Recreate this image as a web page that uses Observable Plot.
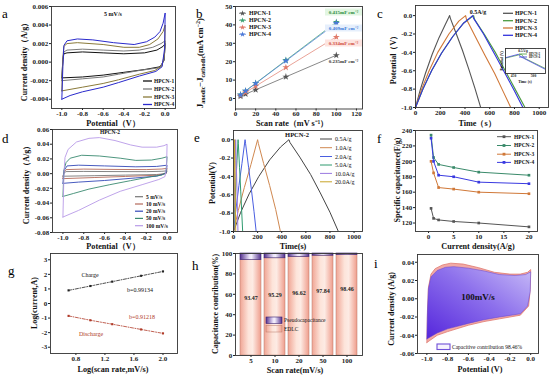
<!DOCTYPE html>
<html><head><meta charset="utf-8">
<script src="https://cdn.jsdelivr.net/npm/d3@7"></script>
<script src="https://cdn.jsdelivr.net/npm/@observablehq/plot@0.6"></script>
<style>
body{margin:0;background:#fff;}
#fig{position:relative;width:550px;height:377px;overflow:hidden;background:#fff;}
#fig svg{position:absolute;left:0;top:0;}
</style></head><body><div id="fig"></div>
<script>
// ---------------- DATA ----------------
// (a) CV at 5 mV/s  [potential V, current A/g]
const aNames = ["HPCN-1","HPCN-2","HPCN-3","HPCN-4"];
const aColors = ["#111111","#7a7a7a","#8a7a3a","#2a2acc"];
const a1 = [[-1.0,-0.0017],[-0.99,0.0003],[-0.98,0.0009],[-0.95,0.0010],[-0.8,0.0011],[-0.6,0.0010],[-0.4,0.0009],[-0.2,0.0010],[-0.08,0.0013],[-0.02,0.0017],[0.0,0.0020],[-0.01,0.0002],[-0.05,-0.0005],[-0.2,-0.0008],[-0.4,-0.0011],[-0.6,-0.0014],[-0.8,-0.0016],[-1.0,-0.0017]];
const a2 = [[-1.0,-0.0020],[-0.99,0.0004],[-0.98,0.0011],[-0.95,0.0013],[-0.8,0.0014],[-0.6,0.0013],[-0.4,0.0012],[-0.25,0.0013],[-0.12,0.0016],[-0.04,0.0020],[0.0,0.0023],[-0.01,0.0003],[-0.05,-0.0006],[-0.25,-0.0009],[-0.45,-0.0013],[-0.6,-0.0016],[-0.8,-0.0018],[-1.0,-0.0020]];
const a3 = [[-1.0,-0.0031],[-0.99,0.0005],[-0.98,0.0017],[-0.95,0.0020],[-0.85,0.0021],[-0.6,0.0019],[-0.4,0.0016],[-0.25,0.0016],[-0.15,0.0019],[-0.07,0.0025],[-0.02,0.0033],[0.0,0.0040],[-0.005,0.0010],[-0.03,-0.0004],[-0.1,-0.0009],[-0.25,-0.0013],[-0.45,-0.0019],[-0.6,-0.0023],[-0.8,-0.0027],[-1.0,-0.0031]];
const a4 = [[-1.0,-0.0040],[-0.99,-0.0005],[-0.98,0.0018],[-0.95,0.0023],[-0.85,0.0025],[-0.7,0.0024],[-0.5,0.0021],[-0.3,0.0019],[-0.18,0.0022],[-0.1,0.0027],[-0.05,0.0033],[-0.02,0.0042],[0.0,0.0053],[-0.005,0.0015],[-0.03,-0.0005],[-0.09,-0.0010],[-0.25,-0.0015],[-0.45,-0.0022],[-0.6,-0.0027],[-0.8,-0.0032],[-0.92,-0.0036],[-1.0,-0.0040]];

// (b) current density difference vs scan rate
const bRate = [5,10,20,50,100];
const bJ1 = [1.2,2.4,4.7,11.8,23.5];
const bJ2 = [2.1,4.1,8.3,20.8,41.5];
const bJ3 = [1.7,3.3,6.7,16.9,33.4];
const bJ4 = [2.0,4.1,8.2,20.5,40.9];
const bColors = ["#555555","#3aa070","#e07a6a","#4a78d8"];
const bSlopes = ["0.415mF cm⁻²","0.409mF cm⁻²","0.334mF cm⁻²","0.235mF cm⁻²"];

// (c) GCD at 0.5 A/g [time s, potential V]
const cColors = ["#555555","#4a9a40","#d07838","#3333dd"];
const c1 = [[0,-1],[40,-0.8],[80,-0.63],[135,-0.42],[190,-0.24],[240,-0.1],[276,0],[282,-0.03],[330,-0.2],[380,-0.38],[430,-0.58],[480,-0.79],[527,-1]];
const c2 = [[0,-1],[60,-0.8],[130,-0.6],[210,-0.41],[300,-0.23],[390,-0.08],[470,0],[477,-0.04],[555,-0.2],[645,-0.4],[725,-0.6],[805,-0.8],[885,-1]];
const c3 = [[0,-1],[50,-0.8],[110,-0.6],[180,-0.4],[270,-0.2],[350,-0.06],[405,0],[412,-0.04],[480,-0.22],[560,-0.43],[640,-0.63],[710,-0.83],[770,-1]];
const c4 = [[0,-1],[60,-0.8],[130,-0.6],[210,-0.41],[300,-0.23],[390,-0.08],[462,0],[470,-0.03],[550,-0.2],[640,-0.42],[720,-0.62],[800,-0.82],[868,-1]];

// (d) CV of HPCN-2 at several scan rates
const dNames = ["5 mV/s","10 mV/s","20 mV/s","50 mV/s","100 mV/s"];
const dColors = ["#777777","#b46a5a","#3348b8","#3a8a70","#b89ae8"];
const d5 = [[-1.0,-0.0035],[-0.99,0.001],[-0.97,0.0028],[-0.8,0.003],[-0.5,0.0028],[-0.2,0.0027],[-0.05,0.0032],[0,0.0038],[-0.01,0.0],[-0.1,-0.0012],[-0.4,-0.002],[-0.7,-0.0028],[-1.0,-0.0035]];
const d10 = [[-1.0,-0.0068],[-0.99,0.002],[-0.97,0.0055],[-0.8,0.0062],[-0.5,0.0057],[-0.2,0.0055],[-0.05,0.0063],[0,0.0072],[-0.01,0.0003],[-0.1,-0.0022],[-0.4,-0.0038],[-0.7,-0.0053],[-1.0,-0.0068]];
const d20 = [[-1.0,-0.0132],[-0.99,0.004],[-0.96,0.0105],[-0.85,0.0115],[-0.6,0.0105],[-0.3,0.0093],[-0.1,0.0098],[0,0.0115],[-0.01,0.0005],[-0.1,-0.0035],[-0.3,-0.0058],[-0.6,-0.0093],[-0.85,-0.0115],[-1.0,-0.0132]];
const d50 = [[-1.0,-0.031],[-0.99,0.005],[-0.97,0.015],[-0.93,0.021],[-0.82,0.025],[-0.65,0.024],[-0.45,0.021],[-0.3,0.018],[-0.15,0.0185],[-0.05,0.021],[0,0.023],[-0.01,0.002],[-0.05,-0.002],[-0.15,-0.004],[-0.35,-0.0095],[-0.55,-0.015],[-0.75,-0.021],[-0.9,-0.027],[-1.0,-0.031]];
const d100 = [[-1.0,-0.059],[-0.99,0.0],[-0.98,0.022],[-0.95,0.033],[-0.87,0.043],[-0.75,0.048],[-0.65,0.049],[-0.5,0.045],[-0.35,0.039],[-0.24,0.036],[-0.1,0.036],[-0.03,0.038],[0,0.040],[-0.005,0.01],[-0.02,-0.004],[-0.08,-0.008],[-0.24,-0.015],[-0.45,-0.024],[-0.65,-0.036],[-0.85,-0.05],[-1.0,-0.059]];

// (e) GCD of HPCN-2 at several current densities
const eNames = ["0.5A/g","1.0A/g","2.0A/g","5.0A/g","10.0A/g","20.0A/g"];
const eColors = ["#444444","#d08850","#4a5ee0","#2e9a6e","#9a78e0","#c8a428"];
const e05 = [[0,-1],[60,-0.79],[130,-0.59],[210,-0.4],[300,-0.22],[390,-0.08],[460,0],[468,-0.03],[550,-0.19],[640,-0.38],[720,-0.58],[800,-0.79],[870,-1]];
const e1 = [[0,-1],[40,-0.77],[90,-0.52],[145,-0.27],[200,0],[206,-0.04],[250,-0.26],[300,-0.5],[350,-0.76],[389,-1]];
const e2 = [[0,-1],[20,-0.76],[45,-0.5],[70,-0.26],[96,0],[100,-0.04],[125,-0.3],[150,-0.56],[170,-0.78],[188,-1]];
const e5 = [[0,-1],[10,-0.72],[20,-0.46],[29,-0.23],[38,0],[40,-0.04],[50,-0.3],[60,-0.56],[68,-0.78],[76,-1]];
const e10 = [[0,-1],[5,-0.72],[10,-0.45],[14,-0.23],[18,0],[19,-0.04],[24,-0.3],[29,-0.56],[33,-0.78],[37,-1]];
const e20 = [[0,-1],[2.5,-0.72],[5,-0.46],[7,-0.23],[9,0],[9.5,-0.04],[12,-0.3],[14.5,-0.56],[16.5,-0.78],[18.5,-1]];

// (f) specific capacitance vs current density
const fCurrent = [0.5,1,2,5,10,20];
const fC1 = [139,126,124,122,120,115];
const fC2 = [234,205,196,192,186,182];
const fC3 = [200,185,166,164,160,158];
const fC4 = [230,200,182,180,173,171];
const fColors = ["#555555","#3a8a6a","#d07838","#3a3ae0"];

// (g) log(current) vs log(scan rate)
const gLogRate = [0.699,1.0,1.301,1.699,2.0];
const gCharge = [0.9,1.2,1.5,1.9,2.2];
const gDischarge = [-0.85,-1.15,-1.42,-1.78,-2.05];

// (h) capacitance contribution
const hRates = ["5","10","20","50","100"];
const hEDLC = [93.47,95.29,96.62,97.84,98.46];
const hPseudo = [6.53,4.71,3.38,2.16,1.54];

// (i) capacitive contribution at 100 mV/s
const iTotal = [[-1.0,-0.048],[-0.995,-0.02],[-0.985,0.012],[-0.96,0.027],[-0.92,0.033],[-0.85,0.037],[-0.77,0.039],[-0.65,0.038],[-0.5,0.034],[-0.35,0.029],[-0.2,0.027],[-0.1,0.027],[-0.03,0.029],[0.0,0.032],[-0.005,0.01],[-0.02,-0.008],[-0.1,-0.018],[-0.3,-0.022],[-0.45,-0.025],[-0.6,-0.029],[-0.8,-0.036],[-0.9,-0.040],[-1.0,-0.048]];
const iCap = [[-1.0,-0.044],[-0.995,-0.015],[-0.985,0.011],[-0.96,0.024],[-0.9,0.031],[-0.82,0.0345],[-0.74,0.0352],[-0.6,0.0335],[-0.45,0.0305],[-0.3,0.0265],[-0.15,0.0255],[-0.05,0.0265],[0.0,0.0295],[-0.005,0.008],[-0.03,-0.008],[-0.1,-0.0165],[-0.3,-0.020],[-0.45,-0.023],[-0.6,-0.027],[-0.8,-0.033],[-0.9,-0.0375],[-1.0,-0.044]];

// ---------------- RENDER ----------------
const W = 550, H = 377;
const FONT = '"Liberation Serif","Times New Roman",Times,serif';
const fig = document.getElementById("fig");
const pts = arr => arr.map(([x, y]) => ({x, y}));
const loc = d3.formatLocale({decimal: ".", thousands: ",", grouping: [3], currency: ["", ""], minus: "-"});
const fmt = s => loc.format(s);

const defs = d3.select(fig).append("svg").attr("width", 1).attr("height", 1).append("defs");
function grad(id, stops, x1 = 0, y1 = 0, x2 = 1, y2 = 0) {
  const g = defs.append("linearGradient").attr("id", id)
    .attr("x1", x1).attr("y1", y1).attr("x2", x2).attr("y2", y2);
  stops.forEach(([o, c]) => g.append("stop").attr("offset", o).attr("stop-color", c));
}
grad("edlcGrad", [[0, "#f0a594"], [0.4, "#fde4da"], [0.6, "#fdebe4"], [1, "#ef9d8c"]]);
grad("pseudoGrad", [[0, "#54308e"], [0.45, "#ece4fa"], [0.55, "#f2eefc"], [1, "#54308e"]]);
grad("capGrad", [[0, "#5526dc"], [0.55, "#8d70ec"], [1, "#c8bcf7"]], 0, 1, 1, 0);

function mk(fr, xs, ys, marks, fs = 7) {
  const [x0, x1, y0, y1] = fr;
  const p = Plot.plot({
    width: W, height: H,
    marginLeft: x0, marginRight: W - x1, marginTop: y0, marginBottom: H - y1,
    style: {fontFamily: FONT, fontSize: fs + "px", fontWeight: "bold", color: "#222", background: "none", overflow: "visible", maxWidth: "none"},
    x: {label: null, tickSize: 2, tickPadding: 0.3, ...xs},
    y: {label: null, tickSize: 2, tickPadding: 1.2, ...ys},
    marks: [...marks, Plot.frame({stroke: "#333", strokeWidth: 0.9})]
  });
  fig.append(p);
  return p;
}
const ln = (arr, stroke, sw = 1, extra = {}) => Plot.line(pts(arr), {x: "x", y: "y", stroke, strokeWidth: sw, clip: true, ...extra});
const f1 = fmt(".1f");

// (a)
mk([51, 175, 6, 108],
  {domain: [-1.1, 0.1], ticks: [-1, -0.8, -0.6, -0.4, -0.2, 0], tickFormat: f1},
  {domain: [-0.005, 0.006], ticks: [-0.004, -0.002, 0, 0.002, 0.004, 0.006], tickFormat: fmt(".3f")},
  [a1, a2, a3, a4].map((s, i) => ln(s, aColors[i], 1)));

// (b)
const bSeries = [bJ1, bJ2, bJ3, bJ4];
mk([235, 362, 6, 108.5],
  {domain: [0, 126], ticks: [0, 20, 40, 60, 80, 100, 120], tickFormat: "d"},
  {domain: [-5.7, 50], ticks: [0, 10, 20, 30, 40, 50], tickFormat: "d"},
  bSeries.flatMap((s, i) => {
    const data = bRate.map((r, k) => ({r, j: s[k]}));
    return [
      Plot.linearRegressionY(data, {x: "r", y: "j", stroke: bColors[i], strokeWidth: 0.7, ci: 0}),
      Plot.dot(data, {x: "r", y: "j", fill: bColors[i], r: 2.2, symbol: "star"})
    ];
  }));

// (c)
mk([415, 548, 5, 107],
  {domain: [0, 1075], ticks: [0, 200, 400, 600, 800, 1000], tickFormat: "d"},
  {domain: [-1.0, 0.11], ticks: [-1, -0.8, -0.6, -0.4, -0.2, 0], tickFormat: f1},
  [c1, c3, c2, c4].map((s, i) => ln(s, [cColors[0], cColors[2], cColors[1], cColors[3]][i], 1.1)));
// (c) inset
mk([505, 545, 48, 73],
  {domain: [430, 530], ticks: [450, 500], tickFormat: "d", tickSize: 1, tickPadding: 0.3},
  {domain: [-0.2, 0.06], ticks: [], tickSize: 0},
  [Plot.frame({fill: "white"}), ln(c2, cColors[1], 0.7), ln(c4, cColors[3], 0.7)], 3.6);

// (d)
mk([52, 177, 129, 232],
  {domain: [-1.1, 0.1], ticks: [-1, -0.8, -0.6, -0.4, -0.2, 0], tickFormat: f1},
  {domain: [-0.08, 0.06], ticks: [-0.08, -0.06, -0.04, -0.02, 0, 0.02, 0.04, 0.06], tickFormat: fmt(".2f")},
  [d5, d10, d20, d50, d100].map((s, i) => ln(s, dColors[i], 0.9)));

// (e)
mk([233, 362, 130, 231],
  {domain: [0, 1070], ticks: [0, 200, 400, 600, 800, 1000], tickFormat: "d"},
  {domain: [-1.0, 0.1], ticks: [-1, -0.8, -0.6, -0.4, -0.2, 0], tickFormat: f1},
  [e05, e1, e2, e5, e10, e20].map((s, i) => ln(s, eColors[i], 1)));

// (f)
const fSeries = [fC1, fC2, fC3, fC4];
mk([415, 537, 130, 231],
  {domain: [-2.6, 21.7], ticks: [0, 5, 10, 15, 20], tickFormat: "d"},
  {domain: [109, 240], ticks: [120, 140, 160, 180, 200, 220, 240], tickFormat: "d"},
  fSeries.flatMap((s, i) => {
    const data = fCurrent.map((c, k) => ({c, v: s[k]}));
    return [
      Plot.line(data, {x: "c", y: "v", stroke: fColors[i], strokeWidth: 1}),
      Plot.dot(data, {x: "c", y: "v", fill: fColors[i], r: 1.5, symbol: "square"})
    ];
  }));

// (g)
const gC = gLogRate.map((x, k) => ({x, y: gCharge[k]}));
const gD = gLogRate.map((x, k) => ({x, y: gDischarge[k]}));
mk([50, 177, 253, 353],
  {domain: [0.45, 2.2], ticks: [0.8, 1.2, 1.6, 2.0], tickFormat: f1},
  {domain: [-3.43, 3.43], ticks: [-3, -2, -1, 0, 1, 2, 3], tickFormat: fmt("d")},
  [
    Plot.line(gC, {x: "x", y: "y", stroke: "#222", strokeWidth: 0.8, strokeDasharray: "3,1.5,1,1.5"}),
    Plot.dot(gC, {x: "x", y: "y", fill: "#222", r: 1.2, symbol: "square"}),
    Plot.line(gD, {x: "x", y: "y", stroke: "#b03a28", strokeWidth: 0.8, strokeDasharray: "3,1.5,1,1.5"}),
    Plot.dot(gD, {x: "x", y: "y", fill: "#b03a28", r: 1.2, symbol: "square"})
  ]);

// (h)
const hData = hRates.map((r, k) => ({r, e: hEDLC[k], p: hPseudo[k], lab: hEDLC[k].toFixed(2)}));
const hLabelPos = [56, 59, 61.5, 63.5, 65];
mk([235, 362, 253, 355],
  {type: "band", domain: hRates, padding: 0.14},
  {domain: [0, 100], ticks: [0, 20, 40, 60, 80, 100], tickFormat: "d"},
  [
    Plot.barY(hData, {x: "r", y1: 0, y2: "e", fill: "url(#edlcGrad)", stroke: "#b87868", strokeWidth: 0.5}),
    Plot.barY(hData, {x: "r", y1: "e", y2: d => d.e + d.p, fill: "url(#pseudoGrad)", stroke: "#3a2070", strokeWidth: 0.6}),
    Plot.text(hData, {x: "r", y: (d, k) => hLabelPos[k], text: "lab", fontSize: 6, fontWeight: "bold", fill: "#222"})
  ]);

// (i)
mk([417, 538, 254, 353],
  {domain: [-1.09, 0.075], ticks: [-1, -0.8, -0.6, -0.4, -0.2, 0], tickFormat: f1},
  {domain: [-0.06, 0.0485], ticks: [-0.06, -0.04, -0.02, 0, 0.02, 0.04], tickFormat: fmt(".2f")},
  [
    ln(iTotal, "#e07a70", 0.8, {fill: "#f2aaa6"}),
    ln(iCap, "#6040d0", 0.5, {fill: "url(#capGrad)"})
  ]);

// ---------------- TEXT OVERLAY ----------------
const ov = d3.select(fig).append("svg").attr("width", W).attr("height", H)
  .style("font-family", FONT).style("overflow", "visible");
function txt(x, y, s, {size = 8.2, weight = "bold", anchor = "middle", fill = "#111", rot = false, mid = false} = {}) {
  const t = ov.append("text").attr("font-size", size).attr("font-weight", weight)
    .attr("fill", fill).attr("text-anchor", anchor);
  if (rot) t.attr("transform", `translate(${x},${y}) rotate(-90)`).attr("dy", "0.35em");
  else { t.attr("x", x).attr("y", y); if (mid) t.attr("dy", "0.35em"); }
  t.text(s);
  return t;
}
function legend(x0, x1, tx, ys, labels, colors, {size = 5.5, weight = "bold", marker = null, sw = 1} = {}) {
  labels.forEach((l, i) => {
    ov.append("line").attr("x1", x0).attr("x2", x1).attr("y1", ys[i]).attr("y2", ys[i])
      .attr("stroke", colors[i]).attr("stroke-width", sw);
    if (marker === "square") ov.append("rect").attr("x", (x0 + x1) / 2 - 1.4).attr("y", ys[i] - 1.4)
      .attr("width", 2.8).attr("height", 2.8).attr("fill", colors[i]);
    if (marker === "star") ov.append("path").attr("transform", `translate(${(x0 + x1) / 2},${ys[i]})`)
      .attr("d", d3.symbol(d3.symbolStar, 10)()).attr("fill", colors[i]);
    txt(tx, ys[i], l, {size, weight, anchor: "start", mid: true});
  });
}

// panel letters
[["a", 2, 18], ["b", 196, 18], ["c", 377, 18], ["d", 2, 143], ["e", 194, 142], ["f", 377, 143],
 ["g", 8, 275], ["h", 192, 270], ["i", 374, 268]].forEach(([s, x, y]) =>
  txt(x, y, s, {size: 13, weight: "normal", anchor: "start", fill: "#000"}));

// axis titles
txt(113, 126, "Potential（V）");
txt(24, 60, "Current density（A/g）", {rot: true, size: 8});
txt(292, 126, "Scan rate（mV s⁻¹）");
{
  const bt = ov.append("text").attr("transform", "translate(200,63) rotate(-90)").attr("text-anchor", "middle")
    .attr("dy", "0.35em").attr("font-size", 8.5).attr("font-weight", "bold").attr("fill", "#111");
  bt.append("tspan").text("J");
  bt.append("tspan").attr("font-size", 6).attr("dy", 2).text("anodic");
  bt.append("tspan").attr("dy", -2).text("−J");
  bt.append("tspan").attr("font-size", 6).attr("dy", 2).text("cathodic");
  bt.append("tspan").attr("dy", -2).text("(mA cm");
  bt.append("tspan").attr("font-size", 6).attr("dy", -3).text("−2");
  bt.append("tspan").attr("dy", 3).text(")");
}
txt(477, 126, "Time（s）");
txt(393, 58, "Potential（V）", {rot: true, size: 8});
txt(113, 249, "Potential（V）");
txt(26, 183, "Current density（A/g）", {rot: true, size: 8});
txt(293, 249, "Time(s)");
txt(212, 183, "Potential(V)", {rot: true, size: 8});
txt(478, 249, "Current density(A/g)");
txt(397, 180, "Specific capacitance(F/g)", {rot: true, size: 8});
txt(113, 371.5, "Log(scan rate,mV/s)");
txt(34, 303, "Log(current,A)", {rot: true, size: 8});
txt(295, 373, "Scan rate(mV/s)");
txt(215, 304, "Capacitance contribution(%)", {rot: true, size: 8});
txt(480, 372, "Potential (V)");
txt(391, 309, "Current density (A/g)", {rot: true, size: 8});

// (a) annotations
txt(113, 16, "5 mV/s", {size: 6});
legend(143, 152, 154, [81, 89, 97, 104.5], aNames, aColors, {size: 5.5, sw: 1.3});

// (b) annotations
legend(239, 246, 249, [13.3, 20.3, 27.3, 34.3], aNames, bColors, {size: 6, marker: "star", sw: 0.7});
const bLabY = [12, 28, 43, 61];
const bLabFill = ["#2a8a3a", "#3a7ad8", "#d04a3a", "#333333"];
const bLabBg = ["#e2f6e2", "#e6effc", "#fde4e0", "none"];
bSlopes.forEach((s, i) => {
  ov.append("rect").attr("x", 325).attr("y", bLabY[i] - 3.5).attr("width", 37).attr("height", 7).attr("fill", bLabBg[i]);
  txt(343.5, bLabY[i], s, {size: 5, fill: bLabFill[i], mid: true});
});

// (c) annotations
txt(478, 11.5, "0.5A/g", {size: 6, mid: true});
legend(503, 513, 515, [13.3, 20.7, 28, 35.3], aNames, cColors, {size: 6, sw: 1.3});
txt(523, 51, "0.5A/g", {size: 3.5, mid: true});
legend(519, 527, 529, [54, 57], ["HPCN-2", "HPCN-4"], [cColors[1], cColors[3]], {size: 3, sw: 0.8});
txt(502, 61, "Potential (V)", {rot: true, size: 3.5});
txt(525, 83, "Time (s)", {size: 3.8});

// (d) annotations
txt(110, 132.5, "HPCN-2", {size: 5.5, mid: true});
legend(135, 143, 146, [196.7, 204, 211.2, 218.4, 225.7], dNames, dColors, {size: 5.5, sw: 1.2});

// (e) annotations
txt(297, 135, "HPCN-2", {size: 6.5, mid: true});
legend(320, 332, 335, [139, 147.7, 156.5, 165, 173.4, 181.8], eNames, eColors, {size: 6, weight: "normal", sw: 1});

// (f) annotations
legend(497, 511, 514, [136.7, 145.5, 154.2, 162.4], aNames, fColors, {size: 5.5, marker: "square", sw: 1});

// (g) annotations
txt(90, 275, "Charge", {size: 6, weight: "normal", mid: true});
txt(140, 290, "b=0.99134", {size: 6, weight: "normal", mid: true});
txt(142, 316.7, "b=0.91218", {size: 6, weight: "normal", fill: "#b03a28", mid: true});
txt(91, 334, "Discharge", {size: 6, weight: "normal", fill: "#b03a28", mid: true});

// (h) legend
ov.append("rect").attr("x", 266).attr("y", 317).attr("width", 16).attr("height", 6.5)
  .attr("fill", "url(#pseudoGrad)").attr("stroke", "#3a2070").attr("stroke-width", 0.6);
ov.append("rect").attr("x", 266).attr("y", 325.5).attr("width", 16).attr("height", 6.5)
  .attr("fill", "url(#edlcGrad)").attr("stroke", "#b87868").attr("stroke-width", 0.5);
txt(284, 320.3, "Pseudocapacitance", {size: 5.5, weight: "normal", anchor: "start", mid: true});
txt(284, 328.8, "EDLC", {size: 5.5, weight: "normal", anchor: "start", mid: true});

// (i) annotations
txt(478, 297, "100mV/s", {size: 9, mid: true});
ov.append("rect").attr("x", 437).attr("y", 344).attr("width", 13).attr("height", 5.5)
  .attr("fill", "#f6f2fd").attr("stroke", "#7050d8").attr("stroke-width", 1.1);
txt(452, 347, "Capacitive contribution 98.46%", {size: 5.5, weight: "normal", anchor: "start", mid: true});
</script>
</body></html>
